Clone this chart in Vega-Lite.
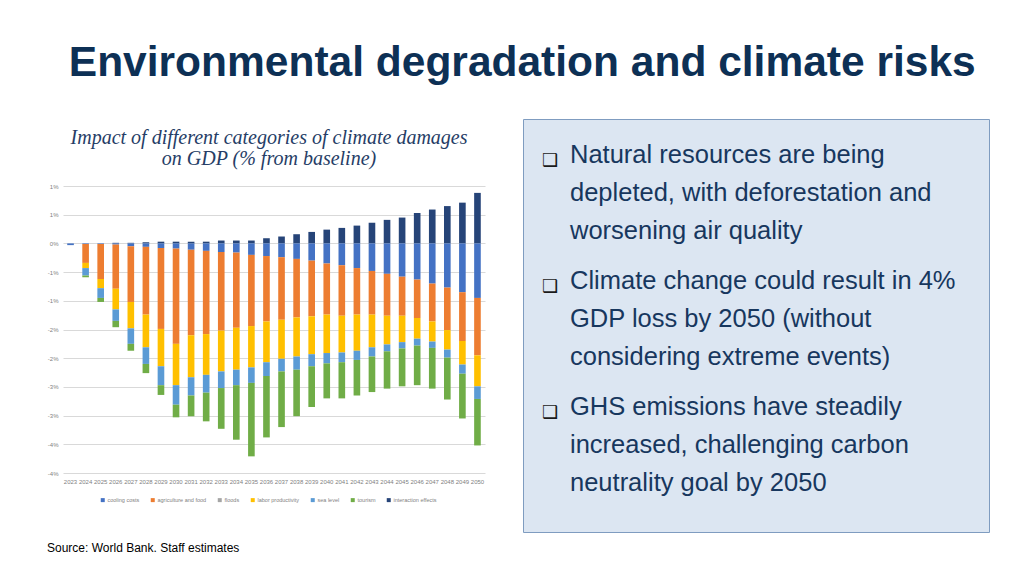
{
  "$schema": "https://vega.github.io/schema/vega-lite/v6.json",
  "background": "white",
  "padding": {"left": 47, "top": 42, "right": 0, "bottom": 0},
  "title": {
    "text": "Environmental degradation and climate risks",
    "font": "Liberation Sans",
    "fontSize": 42.5,
    "fontWeight": "bold",
    "color": "#0D3055",
    "anchor": "middle",
    "offset": 34,
    "dx": 4
  },
  "datasets": {
    "bars": [
      {"year": 2023, "cat": "cooling costs", "v": -0.03},
      {"year": 2024, "cat": "cooling costs", "v": -0.01},
      {"year": 2024, "cat": "agriculture and food", "v": -0.33},
      {"year": 2024, "cat": "labor productivity", "v": -0.09},
      {"year": 2024, "cat": "sea level", "v": -0.13},
      {"year": 2024, "cat": "tourism", "v": -0.03},
      {"year": 2025, "cat": "cooling costs", "v": -0.01},
      {"year": 2025, "cat": "agriculture and food", "v": -0.61},
      {"year": 2025, "cat": "labor productivity", "v": -0.16},
      {"year": 2025, "cat": "sea level", "v": -0.17},
      {"year": 2025, "cat": "tourism", "v": -0.07},
      {"year": 2026, "cat": "interaction effects", "v": 0.01},
      {"year": 2026, "cat": "cooling costs", "v": -0.02},
      {"year": 2026, "cat": "agriculture and food", "v": -0.77},
      {"year": 2026, "cat": "labor productivity", "v": -0.36},
      {"year": 2026, "cat": "sea level", "v": -0.20},
      {"year": 2026, "cat": "tourism", "v": -0.11},
      {"year": 2027, "cat": "interaction effects", "v": 0.01},
      {"year": 2027, "cat": "cooling costs", "v": -0.05},
      {"year": 2027, "cat": "agriculture and food", "v": -0.97},
      {"year": 2027, "cat": "labor productivity", "v": -0.46},
      {"year": 2027, "cat": "sea level", "v": -0.27},
      {"year": 2027, "cat": "tourism", "v": -0.12},
      {"year": 2028, "cat": "interaction effects", "v": 0.02},
      {"year": 2028, "cat": "cooling costs", "v": -0.06},
      {"year": 2028, "cat": "agriculture and food", "v": -1.18},
      {"year": 2028, "cat": "labor productivity", "v": -0.57},
      {"year": 2028, "cat": "sea level", "v": -0.29},
      {"year": 2028, "cat": "tourism", "v": -0.16},
      {"year": 2029, "cat": "interaction effects", "v": 0.03},
      {"year": 2029, "cat": "cooling costs", "v": -0.08},
      {"year": 2029, "cat": "agriculture and food", "v": -1.41},
      {"year": 2029, "cat": "labor productivity", "v": -0.65},
      {"year": 2029, "cat": "sea level", "v": -0.33},
      {"year": 2029, "cat": "tourism", "v": -0.17},
      {"year": 2030, "cat": "interaction effects", "v": 0.03},
      {"year": 2030, "cat": "cooling costs", "v": -0.09},
      {"year": 2030, "cat": "agriculture and food", "v": -1.66},
      {"year": 2030, "cat": "labor productivity", "v": -0.72},
      {"year": 2030, "cat": "sea level", "v": -0.34},
      {"year": 2030, "cat": "tourism", "v": -0.22},
      {"year": 2031, "cat": "interaction effects", "v": 0.03},
      {"year": 2031, "cat": "cooling costs", "v": -0.11},
      {"year": 2031, "cat": "agriculture and food", "v": -1.49},
      {"year": 2031, "cat": "labor productivity", "v": -0.73},
      {"year": 2031, "cat": "sea level", "v": -0.32},
      {"year": 2031, "cat": "tourism", "v": -0.36},
      {"year": 2032, "cat": "interaction effects", "v": 0.03},
      {"year": 2032, "cat": "cooling costs", "v": -0.13},
      {"year": 2032, "cat": "agriculture and food", "v": -1.45},
      {"year": 2032, "cat": "labor productivity", "v": -0.71},
      {"year": 2032, "cat": "sea level", "v": -0.31},
      {"year": 2032, "cat": "tourism", "v": -0.50},
      {"year": 2033, "cat": "interaction effects", "v": 0.05},
      {"year": 2033, "cat": "cooling costs", "v": -0.15},
      {"year": 2033, "cat": "agriculture and food", "v": -1.37},
      {"year": 2033, "cat": "labor productivity", "v": -0.71},
      {"year": 2033, "cat": "sea level", "v": -0.29},
      {"year": 2033, "cat": "tourism", "v": -0.71},
      {"year": 2034, "cat": "interaction effects", "v": 0.05},
      {"year": 2034, "cat": "cooling costs", "v": -0.16},
      {"year": 2034, "cat": "agriculture and food", "v": -1.31},
      {"year": 2034, "cat": "labor productivity", "v": -0.73},
      {"year": 2034, "cat": "sea level", "v": -0.27},
      {"year": 2034, "cat": "tourism", "v": -0.95},
      {"year": 2035, "cat": "interaction effects", "v": 0.05},
      {"year": 2035, "cat": "cooling costs", "v": -0.20},
      {"year": 2035, "cat": "agriculture and food", "v": -1.24},
      {"year": 2035, "cat": "labor productivity", "v": -0.72},
      {"year": 2035, "cat": "sea level", "v": -0.27},
      {"year": 2035, "cat": "tourism", "v": -1.28},
      {"year": 2036, "cat": "interaction effects", "v": 0.09},
      {"year": 2036, "cat": "cooling costs", "v": -0.22},
      {"year": 2036, "cat": "agriculture and food", "v": -1.14},
      {"year": 2036, "cat": "labor productivity", "v": -0.71},
      {"year": 2036, "cat": "sea level", "v": -0.24},
      {"year": 2036, "cat": "tourism", "v": -1.07},
      {"year": 2037, "cat": "interaction effects", "v": 0.12},
      {"year": 2037, "cat": "cooling costs", "v": -0.24},
      {"year": 2037, "cat": "agriculture and food", "v": -1.09},
      {"year": 2037, "cat": "labor productivity", "v": -0.68},
      {"year": 2037, "cat": "sea level", "v": -0.22},
      {"year": 2037, "cat": "tourism", "v": -0.97},
      {"year": 2038, "cat": "interaction effects", "v": 0.16},
      {"year": 2038, "cat": "cooling costs", "v": -0.27},
      {"year": 2038, "cat": "agriculture and food", "v": -1.02},
      {"year": 2038, "cat": "labor productivity", "v": -0.68},
      {"year": 2038, "cat": "sea level", "v": -0.23},
      {"year": 2038, "cat": "tourism", "v": -0.81},
      {"year": 2039, "cat": "interaction effects", "v": 0.20},
      {"year": 2039, "cat": "cooling costs", "v": -0.30},
      {"year": 2039, "cat": "agriculture and food", "v": -0.97},
      {"year": 2039, "cat": "labor productivity", "v": -0.66},
      {"year": 2039, "cat": "sea level", "v": -0.21},
      {"year": 2039, "cat": "tourism", "v": -0.71},
      {"year": 2040, "cat": "interaction effects", "v": 0.24},
      {"year": 2040, "cat": "cooling costs", "v": -0.35},
      {"year": 2040, "cat": "agriculture and food", "v": -0.89},
      {"year": 2040, "cat": "labor productivity", "v": -0.67},
      {"year": 2040, "cat": "sea level", "v": -0.18},
      {"year": 2040, "cat": "tourism", "v": -0.61},
      {"year": 2041, "cat": "interaction effects", "v": 0.27},
      {"year": 2041, "cat": "cooling costs", "v": -0.38},
      {"year": 2041, "cat": "agriculture and food", "v": -0.88},
      {"year": 2041, "cat": "labor productivity", "v": -0.64},
      {"year": 2041, "cat": "sea level", "v": -0.17},
      {"year": 2041, "cat": "tourism", "v": -0.63},
      {"year": 2042, "cat": "interaction effects", "v": 0.31},
      {"year": 2042, "cat": "cooling costs", "v": -0.43},
      {"year": 2042, "cat": "agriculture and food", "v": -0.81},
      {"year": 2042, "cat": "labor productivity", "v": -0.63},
      {"year": 2042, "cat": "sea level", "v": -0.16},
      {"year": 2042, "cat": "tourism", "v": -0.62},
      {"year": 2043, "cat": "interaction effects", "v": 0.36},
      {"year": 2043, "cat": "cooling costs", "v": -0.48},
      {"year": 2043, "cat": "agriculture and food", "v": -0.76},
      {"year": 2043, "cat": "labor productivity", "v": -0.57},
      {"year": 2043, "cat": "sea level", "v": -0.16},
      {"year": 2043, "cat": "tourism", "v": -0.62},
      {"year": 2044, "cat": "interaction effects", "v": 0.41},
      {"year": 2044, "cat": "cooling costs", "v": -0.53},
      {"year": 2044, "cat": "agriculture and food", "v": -0.73},
      {"year": 2044, "cat": "labor productivity", "v": -0.50},
      {"year": 2044, "cat": "sea level", "v": -0.12},
      {"year": 2044, "cat": "tourism", "v": -0.65},
      {"year": 2045, "cat": "interaction effects", "v": 0.45},
      {"year": 2045, "cat": "cooling costs", "v": -0.58},
      {"year": 2045, "cat": "agriculture and food", "v": -0.68},
      {"year": 2045, "cat": "labor productivity", "v": -0.46},
      {"year": 2045, "cat": "sea level", "v": -0.11},
      {"year": 2045, "cat": "tourism", "v": -0.66},
      {"year": 2046, "cat": "interaction effects", "v": 0.53},
      {"year": 2046, "cat": "cooling costs", "v": -0.63},
      {"year": 2046, "cat": "agriculture and food", "v": -0.67},
      {"year": 2046, "cat": "labor productivity", "v": -0.36},
      {"year": 2046, "cat": "sea level", "v": -0.12},
      {"year": 2046, "cat": "tourism", "v": -0.69},
      {"year": 2047, "cat": "interaction effects", "v": 0.59},
      {"year": 2047, "cat": "cooling costs", "v": -0.70},
      {"year": 2047, "cat": "agriculture and food", "v": -0.66},
      {"year": 2047, "cat": "labor productivity", "v": -0.35},
      {"year": 2047, "cat": "sea level", "v": -0.11},
      {"year": 2047, "cat": "tourism", "v": -0.71},
      {"year": 2048, "cat": "interaction effects", "v": 0.65},
      {"year": 2048, "cat": "cooling costs", "v": -0.77},
      {"year": 2048, "cat": "agriculture and food", "v": -0.74},
      {"year": 2048, "cat": "labor productivity", "v": -0.34},
      {"year": 2048, "cat": "sea level", "v": -0.14},
      {"year": 2048, "cat": "tourism", "v": -0.73},
      {"year": 2049, "cat": "interaction effects", "v": 0.71},
      {"year": 2049, "cat": "cooling costs", "v": -0.85},
      {"year": 2049, "cat": "agriculture and food", "v": -0.85},
      {"year": 2049, "cat": "labor productivity", "v": -0.41},
      {"year": 2049, "cat": "sea level", "v": -0.16},
      {"year": 2049, "cat": "tourism", "v": -0.78},
      {"year": 2050, "cat": "interaction effects", "v": 0.88},
      {"year": 2050, "cat": "cooling costs", "v": -0.95},
      {"year": 2050, "cat": "agriculture and food", "v": -1.00},
      {"year": 2050, "cat": "labor productivity", "v": -0.54},
      {"year": 2050, "cat": "sea level", "v": -0.22},
      {"year": 2050, "cat": "tourism", "v": -0.81}
    ],
    "notes": [
      {"para": 1, "lines": ["Natural resources are being", "depleted, with deforestation and", "worsening air quality"]},
      {"para": 2, "lines": ["Climate change could result in 4%", "GDP loss by 2050 (without", "considering extreme events)"]},
      {"para": 3, "lines": ["GHS emissions have steadily", "increased, challenging carbon", "neutrality goal by 2050"]}
    ]
  },
  "vconcat": [
    {
      "hconcat": [
        {
          "vconcat": [
            {
              "width": 422,
              "height": 59,
              "data": {"values": [{"t": ["Impact of different categories of climate damages", "on GDP (% from baseline)"]}]},
              "mark": {"type": "text", "font": "Liberation Serif", "fontStyle": "italic", "fontSize": 20, "lineHeight": 21, "color": "#263D66", "align": "center", "baseline": "middle", "dy": -10.5, "dx": -5},
              "encoding": {"text": {"field": "t"}}
            },
            {
              "width": 422,
              "height": 287,
              "data": {"name": "bars"},
              "transform": [
                {
                  "lookup": "cat",
                  "from": {
                    "data": {
                      "values": [
                        {"cat": "cooling costs", "k": 1},
                        {"cat": "agriculture and food", "k": 2},
                        {"cat": "floods", "k": 3},
                        {"cat": "labor productivity", "k": 4},
                        {"cat": "sea level", "k": 5},
                        {"cat": "tourism", "k": 6},
                        {"cat": "interaction effects", "k": 7}
                      ]
                    },
                    "key": "cat",
                    "fields": ["k"]
                  }
                }
              ],
              "mark": {"type": "bar"},
              "encoding": {
                "x": {
                  "field": "year",
                  "type": "ordinal",
                  "scale": {"paddingInner": 0.56, "paddingOuter": 0.28},
                  "axis": {
                    "title": null,
                    "labelAngle": 0,
                    "domain": false,
                    "ticks": false,
                    "grid": false,
                    "labelFont": "Liberation Sans",
                    "labelFontSize": 6,
                    "labelColor": "#7F7F7F",
                    "labelPadding": 5,
                    "labelOverlap": false
                  }
                },
                "y": {
                  "field": "v",
                  "type": "quantitative",
                  "stack": "zero",
                  "scale": {"domain": [-4, 1], "nice": false},
                  "axis": {
                    "title": null,
                    "values": [-4, -3.5, -3, -2.5, -2, -1.5, -1, -0.5, 0, 0.5, 1],
                    "labelExpr": "(datum.value < 0 ? '-' + round(-datum.value) : '' + round(datum.value)) + '%'",
                    "domain": false,
                    "ticks": false,
                    "labelFont": "Liberation Sans",
                    "labelFontSize": 6,
                    "labelColor": "#7F7F7F",
                    "labelPadding": 5,
                    "gridColor": "#D9D9D9",
                    "gridWidth": 1
                  }
                },
                "color": {
                  "field": "cat",
                  "type": "nominal",
                  "scale": {
                    "domain": ["cooling costs", "agriculture and food", "floods", "labor productivity", "sea level", "tourism", "interaction effects"],
                    "range": ["#4472C4", "#ED7D31", "#A5A5A5", "#FFC000", "#5B9BD5", "#70AD47", "#264478"]
                  },
                  "legend": {
                    "orient": "none",
                    "legendX": 37,
                    "legendY": 378,
                    "direction": "horizontal",
                    "columns": 7,
                    "title": null,
                    "symbolType": "square",
                    "symbolSize": 16,
                    "symbolStrokeWidth": 0,
                    "labelFont": "Liberation Sans",
                    "labelFontSize": 5.5,
                    "labelColor": "#7F7F7F",
                    "labelOffset": 2,
                    "columnPadding": 10
                  }
                },
                "order": {"field": "k", "type": "quantitative"}
              }
            }
          ],
          "spacing": 5
        },
        {
          "width": 466,
          "height": 413,
          "view": {"fill": "#DCE6F2", "stroke": "#7F9CC0", "strokeWidth": 1},
          "data": {"name": "notes"},
          "encoding": {
            "y": {
              "field": "para",
              "type": "quantitative",
              "scale": {"domain": [1, 3], "range": [44, 296]},
              "axis": null
            }
          },
          "layer": [
            {
              "mark": {"type": "text", "font": "DejaVu Sans", "fontSize": 18, "color": "#1A1A1A", "align": "left", "baseline": "alphabetic", "dy": 3},
              "encoding": {"x": {"value": 19}, "text": {"value": "❑"}}
            },
            {
              "mark": {"type": "text", "font": "Liberation Sans", "fontSize": 25.5, "color": "#17375E", "align": "left", "baseline": "alphabetic", "lineHeight": 38},
              "encoding": {"x": {"value": 47}, "text": {"field": "lines"}}
            }
          ]
        }
      ],
      "spacing": 37
    },
    {
      "width": 300,
      "height": 12,
      "data": {"values": [{"t": "Source: World Bank. Staff estimates"}]},
      "mark": {"type": "text", "align": "left", "baseline": "middle", "font": "Liberation Sans", "fontSize": 12, "color": "#000000"},
      "encoding": {"x": {"value": -16}, "y": {"value": 6}, "text": {"field": "t"}}
    }
  ],
  "spacing": 9,
  "config": {"view": {"stroke": null}}
}
